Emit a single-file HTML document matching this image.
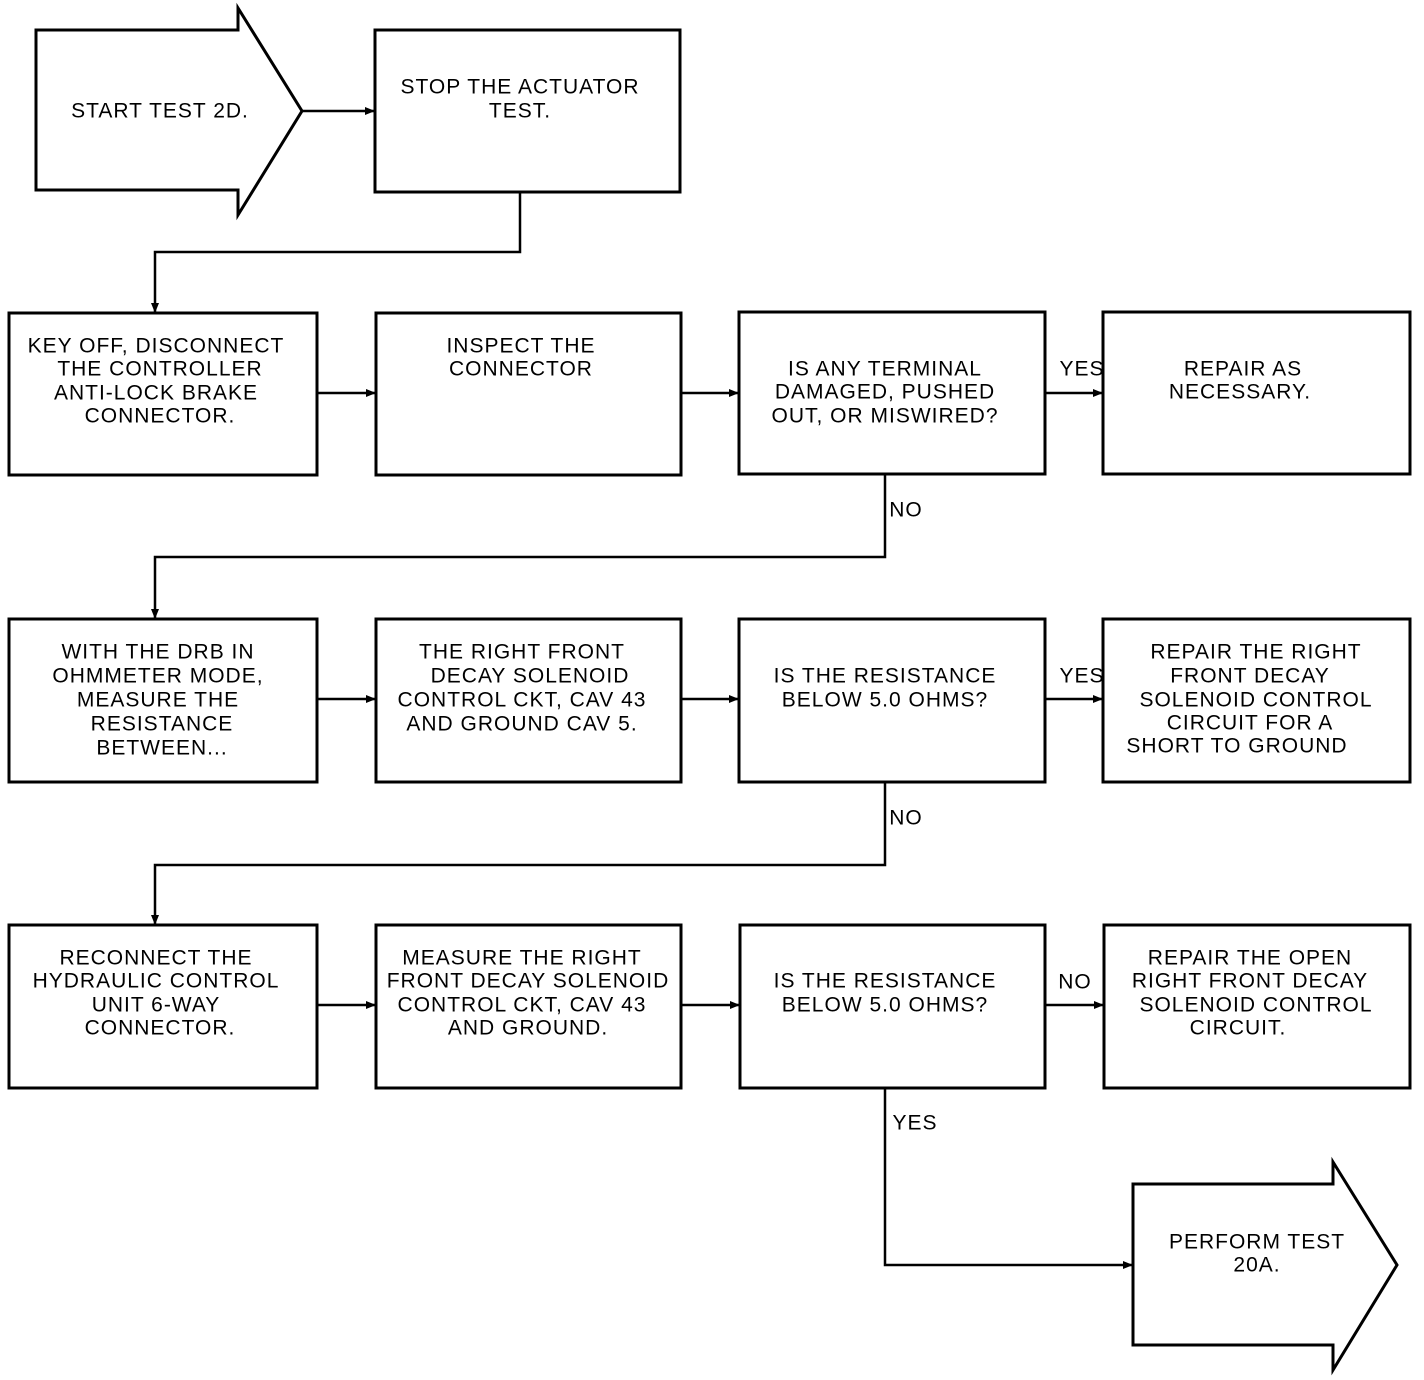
<!DOCTYPE html>
<html><head><meta charset="utf-8"><style>
html,body{margin:0;padding:0;background:#fff}
svg{display:block}
text{font-family:"Liberation Sans",sans-serif;font-size:21px;letter-spacing:1px;fill:#000;text-anchor:middle;dominant-baseline:central}
</style></head><body>
<svg width="1424" height="1380" viewBox="0 0 1424 1380" xmlns="http://www.w3.org/2000/svg">
<defs><marker id="a" markerWidth="10" markerHeight="8" refX="9" refY="4" orient="auto" markerUnits="userSpaceOnUse"><path d="M0,0 L10,4 L0,8z" fill="#000"/></marker></defs>
<g fill="none" stroke="#000" stroke-width="3">
<polygon points="36,30 238,30 238,8 302,111 238,215 238,190 36,190"/>
<rect x="375" y="30" width="305" height="162"/>
<rect x="9" y="313" width="308" height="162"/>
<rect x="376" y="313" width="305" height="162"/>
<rect x="739" y="312" width="306" height="162"/>
<rect x="1103" y="312" width="307" height="162"/>
<rect x="9" y="619" width="308" height="163"/>
<rect x="376" y="619" width="305" height="163"/>
<rect x="739" y="619" width="306" height="163"/>
<rect x="1103" y="619" width="307" height="163"/>
<rect x="9" y="925" width="308" height="163"/>
<rect x="376" y="925" width="305" height="163"/>
<rect x="740" y="925" width="305" height="163"/>
<rect x="1104" y="925" width="306" height="163"/>
<polygon points="1133,1184 1333,1184 1333,1162 1397,1265 1333,1370 1333,1345 1133,1345"/>
</g>
<g fill="none" stroke="#000" stroke-width="2.5" marker-end="url(#a)">
<line x1="302" y1="111" x2="374" y2="111"/>
<polyline points="520,192 520,252 155,252 155,312"/>
<line x1="317" y1="393" x2="375" y2="393"/>
<line x1="681" y1="393" x2="738" y2="393"/>
<line x1="1045" y1="393" x2="1102" y2="393"/>
<polyline points="885,474 885,557 155,557 155,618"/>
<line x1="317" y1="699" x2="375" y2="699"/>
<line x1="681" y1="699" x2="738" y2="699"/>
<line x1="1045" y1="699" x2="1102" y2="699"/>
<polyline points="885,782 885,865 155,865 155,924"/>
<line x1="317" y1="1005" x2="375" y2="1005"/>
<line x1="681" y1="1005" x2="739" y2="1005"/>
<line x1="1045" y1="1005" x2="1103" y2="1005"/>
<polyline points="885,1088 885,1265 1132,1265"/>
</g>
<text x="160" y="111">START TEST 2D.</text>
<text x="520" y="87">STOP THE ACTUATOR</text><text x="520" y="111">TEST.</text>
<text x="156" y="346">KEY OFF, DISCONNECT</text><text x="160" y="369">THE CONTROLLER</text><text x="156" y="393">ANTI-LOCK BRAKE</text><text x="160" y="416">CONNECTOR.</text>
<text x="521" y="346">INSPECT THE</text><text x="521" y="369">CONNECTOR</text>
<text x="885" y="369">IS ANY TERMINAL</text><text x="885" y="392">DAMAGED, PUSHED</text><text x="885" y="416">OUT, OR MISWIRED?</text>
<text x="1243" y="369">REPAIR AS</text><text x="1240" y="392">NECESSARY.</text>
<text x="1082" y="369">YES</text><text x="906" y="510">NO</text>
<text x="158" y="652">WITH THE DRB IN</text><text x="158" y="676">OHMMETER MODE,</text><text x="158" y="700">MEASURE THE</text><text x="162" y="724">RESISTANCE</text><text x="162" y="748">BETWEEN...</text>
<text x="522" y="652">THE RIGHT FRONT</text><text x="530" y="676">DECAY SOLENOID</text><text x="522" y="700">CONTROL CKT, CAV 43</text><text x="522" y="724">AND GROUND CAV 5.</text>
<text x="885" y="676">IS THE RESISTANCE</text><text x="885" y="700">BELOW 5.0 OHMS?</text>
<text x="1082" y="676">YES</text>
<text x="1256" y="652">REPAIR THE RIGHT</text><text x="1250" y="676">FRONT DECAY</text><text x="1256" y="700">SOLENOID CONTROL</text><text x="1250" y="723">CIRCUIT FOR A</text><text x="1237" y="746">SHORT TO GROUND</text>
<text x="906" y="818">NO</text>
<text x="156" y="958">RECONNECT THE</text><text x="156" y="981">HYDRAULIC CONTROL</text><text x="156" y="1005">UNIT 6-WAY</text><text x="160" y="1028">CONNECTOR.</text>
<text x="522" y="958">MEASURE THE RIGHT</text><text x="528" y="981">FRONT DECAY SOLENOID</text><text x="522" y="1005">CONTROL CKT, CAV 43</text><text x="528" y="1028">AND GROUND.</text>
<text x="885" y="981">IS THE RESISTANCE</text><text x="885" y="1005">BELOW 5.0 OHMS?</text>
<text x="1075" y="982">NO</text>
<text x="1250" y="958">REPAIR THE OPEN</text><text x="1250" y="981">RIGHT FRONT DECAY</text><text x="1256" y="1005">SOLENOID CONTROL</text><text x="1238" y="1028">CIRCUIT.</text>
<text x="915" y="1123">YES</text>
<text x="1257" y="1242">PERFORM TEST</text><text x="1257" y="1265">20A.</text>
</svg>
</body></html>
